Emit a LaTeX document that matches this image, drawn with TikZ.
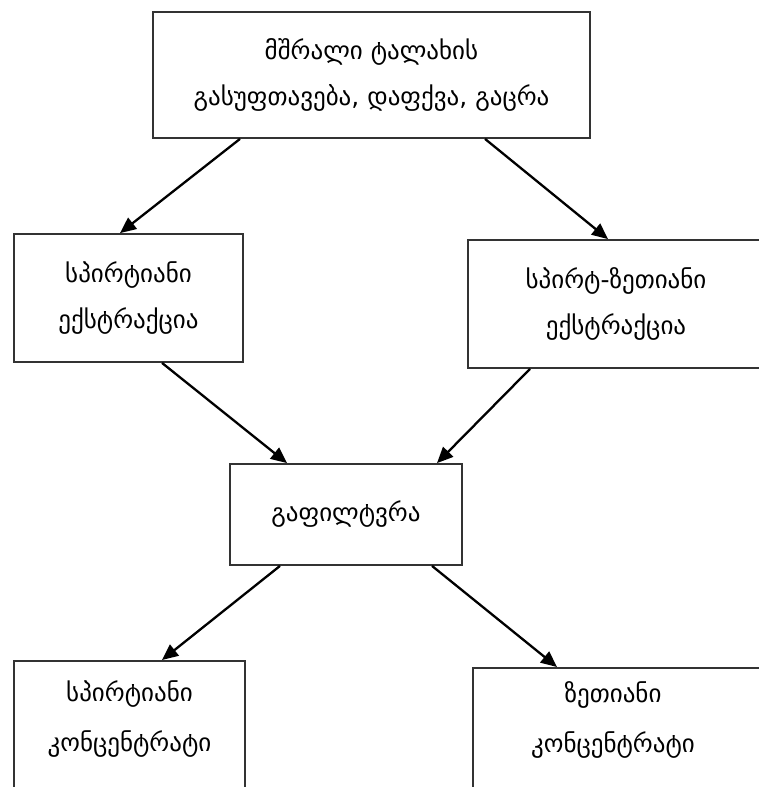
\documentclass[tikz,border=0pt]{standalone}
\usepackage{fontspec}
\setmainfont{DejaVu Sans}
\usetikzlibrary{arrows.meta,positioning}

\tikzset{
    stage/.style={draw=black!80, line width=1.8pt, fill=white, inner sep=0pt,
        align=center, font=\fontsize{25}{46}\selectfont},
    words/.style={align=center, font=\fontsize{25}{50}\selectfont},
    flow/.style={-{Triangle[length=16pt,width=14pt]}, line width=2.3pt}
}

\begin{document}
\begin{tikzpicture}[x=1pt, y=-1pt]
                \useasboundingbox (0,0) rectangle (758,787);
                % stages
                \node[stage, minimum width=437pt, minimum height=126pt] (clean) at (371.5,75)
                    {მშრალი ტალახის\\გასუფთავება, დაფქვა, გაცრა};
                \node[stage, minimum width=229pt, minimum height=128pt] (alco) at (128.5,298)
                    {სპირტიანი\\ექსტრაქცია};
                \node[stage, minimum width=296pt, minimum height=128pt] (oil) at (616,304)
                    {სპირტ-ზეთიანი\\ექსტრაქცია};
                \node[stage, minimum width=232pt, minimum height=101pt] (filt) at (346,514.5)
                    {გაფილტვრა};
                % concentrates (cut at the page bottom)
                \node[stage, minimum width=231pt, minimum height=160pt, anchor=north] (conA) at (129.5,660) {};
                \node[words] (conAtext) at (129.5,719) {სპირტიანი\\კონცენტრატი};
                \node[stage, minimum width=296pt, minimum height=160pt, anchor=north] (conB) at (621,667) {};
                \node[words] (conBtext) at (613,720) {ზეთიანი\\კონცენტრატი};
                % arrows
                \draw[flow] ([xshift=-131.5pt]clean.south) -- ([xshift=-8.5pt]alco.north);
                \draw[flow] ([xshift=113.5pt]clean.south) -- ([xshift=-8pt]oil.north);
                \draw[flow] ([xshift=33.5pt]alco.south) -- ([xshift=-59pt]filt.north);
                \draw[flow] ([xshift=-86pt]oil.south) -- ([xshift=91pt]filt.north);
                \draw[flow] ([xshift=-66pt]filt.south) -- ([xshift=32.5pt]conA.north);
                \draw[flow] ([xshift=86pt]filt.south) -- ([xshift=-64pt]conB.north);
\end{tikzpicture}
\end{document}
